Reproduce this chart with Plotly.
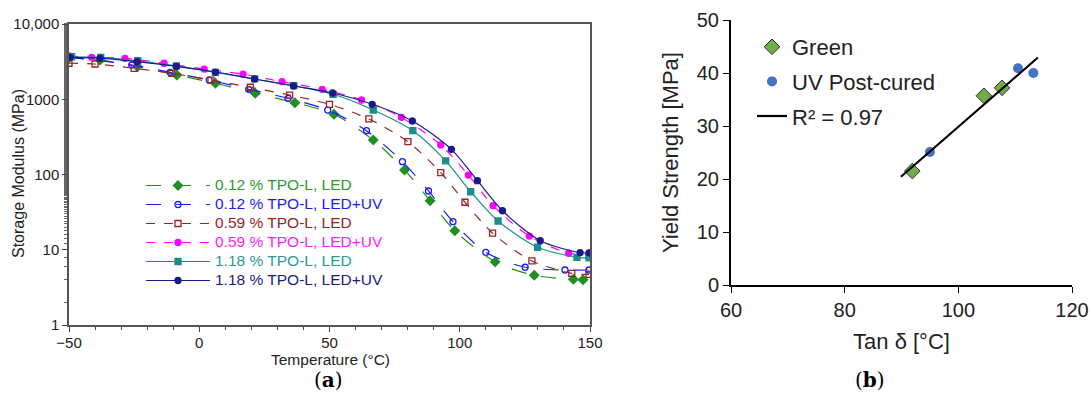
import numpy as np
import plotly.graph_objects as go

# ---------------- Panel (a): storage modulus vs temperature ----------------
temp_g  = [-50, -38.1, -23.7, -8.6, 6.2, 21.5, 36.7, 51.7, 66.8, 78.8, 88.6, 98.1, 113.6, 128.6, 143.6, 147.3]
mod_g   = [3530, 3330, 2710, 2100, 1630, 1200, 900, 631, 287, 115, 44.9, 17.9, 6.9, 4.57, 4.05, 4.0]

temp_b  = [-50, -25.9, -11.2, 3.8, 19.0, 34.1, 49.3, 64.2, 78.0, 88.0, 97.4, 110.0, 125.1, 140.4, 149.6]
mod_b   = [3640, 2850, 2280, 1800, 1356, 1030, 719, 382, 148, 60.4, 23.6, 9.25, 5.85, 5.38, 5.38]

temp_r  = [-50, -40, -25, -10.5, 4.5, 19.6, 34.7, 50, 65.1, 80.1, 92.7, 102.0, 112.6, 127.7, 143.0, 149.6]
mod_r   = [3010, 2940, 2580, 2210, 1800, 1443, 1138, 857, 547, 273, 106, 42.8, 16.6, 7.1, 4.86, 4.7]

temp_m  = [-50, -41.3, -28.5, -13.5, 1.9, 16.8, 31.8, 47.2, 62.3, 77.6, 92.7, 103.3, 112.8, 126.7, 141.8, 149.6]
mod_m   = [3760, 3610, 3500, 3010, 2520, 2150, 1710, 1356, 977, 575, 247, 98.4, 38.5, 15.2, 8.98, 8.5]

temp_t  = [-49, -37.8, -23.6, -8.8, 6.2, 21.3, 36.3, 51.4, 66.8, 82.0, 94.6, 104.2, 114.7, 129.9, 145.0, 149.6]
mod_t   = [3670, 3610, 3250, 2770, 2280, 1860, 1514, 1164, 719, 382, 152, 59, 24.1, 10.8, 7.94, 7.8]

temp_n  = [-49.6, -38.1, -23.8, -8.8, 6.2, 21.2, 36.2, 51.2, 66.4, 81.8, 96.8, 106.8, 116.4, 130.9, 146.2, 149.6]
mod_n   = [3610, 3530, 3170, 2730, 2300, 1860, 1500, 1210, 857, 514, 216, 82.8, 33.0, 13.2, 9.14, 9.1]

series_names = ["0.12 % TPO-L, LED", "0.12 % TPO-L, LED+UV", "0.59 % TPO-L, LED",
                "0.59 % TPO-L, LED+UV", "1.18 % TPO-L, LED", "1.18 % TPO-L, LED+UV"]

log_tickvals = [1, 10, 100, 1000, 10000]
log_ticktext = ["1", "10", "100", "1000", "10,000"]

# ---------------- Panel (b): yield strength vs tan delta peak ----------------
green_tan = [91.9, 104.5, 107.7]
green_ys  = [21.5, 35.7, 37.2]
uv_tan    = [95.0, 110.5, 113.2]
uv_ys     = [25.1, 40.9, 40.0]
trend_x_ends = [89.9, 114.0]
r2_label = "R² = 0.97"

W, H = 1091, 399
def fx(px):  # screen px -> paper fraction (x)
    return px / W
def fy(py):  # screen px -> paper fraction (y)
    return 1 - py / H

fig = go.Figure()

styles = [
    (temp_g, mod_g, "#1f8f1f", "longdash", "diamond", 7, "#2e9a2e"),
    (temp_b, mod_b, "#1a1aff", "longdash", "circle-open", 6, "#1a1aff"),
    (temp_r, mod_r, "#9b2323", "dash", "square-open", 6, "#9b2323"),
    (temp_m, mod_m, "#ff00ff", "dash", "circle", 6, "#ff1aff"),
    (temp_t, mod_t, "#1f8c8c", "solid", "square", 6, "#2a9a9a"),
    (temp_n, mod_n, "#1a1a8c", "solid", "circle-dot", 6, "#1a1a8c"),
]
for (tx, my, col, dash, sym, sz, tcol), name in zip(styles, series_names):
    fig.add_trace(go.Scatter(
        x=tx, y=my, mode="lines+markers",
        name=f"<span style='color:{tcol};font-size:15.5px'>{name}</span>",
        line=dict(color=col, width=1.2, dash=dash, shape="spline", smoothing=0.8),
        marker=dict(symbol=sym, size=sz, color=col, line=dict(color=col, width=1.3)),
        xaxis="x", yaxis="y", legend="legend",
    ))

fig.add_trace(go.Scatter(
    x=green_tan, y=green_ys, mode="markers", name="Green",
    marker=dict(symbol="diamond", size=12, color="#70ad47", line=dict(color="#2b2b2b", width=1)),
    xaxis="x2", yaxis="y2", legend="legend2", legendgroup="g1",
))
fig.add_trace(go.Scatter(
    x=uv_tan, y=uv_ys, mode="markers", name="UV Post-cured",
    marker=dict(symbol="circle", size=10, color="#4472c4"),
    xaxis="x2", yaxis="y2", legend="legend2", legendgroup="g2",
))
all_x = np.array(green_tan + uv_tan)
all_y = np.array(green_ys + uv_ys)
slope, intercept = np.polyfit(all_x, all_y, 1)
tx = np.array(trend_x_ends)
fig.add_trace(go.Scatter(
    x=tx, y=slope * tx + intercept, mode="lines", name=r2_label,
    line=dict(color="black", width=2.2),
    xaxis="x2", yaxis="y2", legend="legend2", legendgroup="g3",
))

fa = "Arial, Liberation Sans, sans-serif"
serif = "DejaVu Serif, Liberation Serif, serif"
fig.update_layout(
    width=W, height=H, margin=dict(l=0, r=0, t=0, b=0, autoexpand=False),
    paper_bgcolor="white", plot_bgcolor="white",
    font=dict(family=fa, color="#222"),
    xaxis=dict(domain=[fx(69), fx(590)], range=[-50, 150], tickvals=[-50, 0, 50, 100, 150],
               automargin=False, ticklabelstandoff=-2,
               ticks="outside", ticklen=5, tickcolor="#444", showgrid=False, zeroline=False,
               showline=True, linecolor="#555", linewidth=1.5, mirror=True,
               minor=dict(dtick=10, ticks="outside", ticklen=3, tickcolor="#444"),
               tickfont=dict(size=15, color="#222")),
    yaxis=dict(domain=[fy(325), fy(24)], type="log", range=[0, 4],
               tickvals=log_tickvals, ticktext=log_ticktext, automargin=False,
               ticks="outside", ticklen=5, tickcolor="#444", showgrid=False, zeroline=False,
               showline=True, linecolor="#555", linewidth=1.5, mirror=True,
               minor=dict(ticks="outside", ticklen=3, tickcolor="#666", tickwidth=1, showgrid=False),
               tickfont=dict(size=15, color="#222")),
    xaxis2=dict(domain=[fx(731), fx(1072)], range=[60, 120], dtick=20, anchor="y2",
                automargin=False,
                ticks="outside", ticklen=6, tickcolor="black", showgrid=False, zeroline=False,
                showline=True, linecolor="black", linewidth=2,
                tickfont=dict(size=20, color="#222"),
                title=dict(text="Tan δ [°C]", font=dict(size=22, color="#222"), standoff=14)),
    yaxis2=dict(domain=[fy(285), fy(20)], range=[0, 50], dtick=10, anchor="x2",
                automargin=False,
                ticks="outside", ticklen=6, tickcolor="black", showgrid=False, zeroline=False,
                showline=True, linecolor="black", linewidth=2,
                tickfont=dict(size=20, color="#222"),
                title=dict(text="Yield Strength [MPa]", font=dict(size=22, color="#222"), standoff=12)),
    legend=dict(x=fx(141), y=fy(171), xanchor="left", yanchor="top",
                bgcolor="rgba(0,0,0,0)", font=dict(size=12), tracegroupgap=0,
                itemwidth=64),
    legend2=dict(x=fx(752), y=fy(26), xanchor="left", yanchor="top",
                 bgcolor="rgba(0,0,0,0)", font=dict(size=22, color="#222"),
                 traceorder="grouped", tracegroupgap=3),
    showlegend=True,
    annotations=[
        dict(text="Storage Modulus (MPa)", x=fx(18), y=fy(174), xref="paper", yref="paper",
             xanchor="center", yanchor="middle",
             textangle=-90, showarrow=False, font=dict(size=16, color="#222")),
        dict(text="Temperature (°C)", x=fx(330), y=fy(359), xref="paper", yref="paper",
             xanchor="center", yanchor="middle", borderpad=0,
             showarrow=False, font=dict(size=15.5, color="#222")),
        dict(text="(<b>a</b>)", x=fx(328), y=fy(380), xref="paper", yref="paper",
             xanchor="center", yanchor="middle",
             showarrow=False, font=dict(family=serif, size=20, color="black")),
        dict(text="(<b>b</b>)", x=fx(870), y=fy(380), xref="paper", yref="paper",
             xanchor="center", yanchor="middle",
             showarrow=False, font=dict(family=serif, size=20, color="black")),
    ],
)

fig.write_html(
    "out.html",
    config={"displayModeBar": False},
    post_script="document.body.style.margin='0px';document.body.style.overflow='hidden';",
)
